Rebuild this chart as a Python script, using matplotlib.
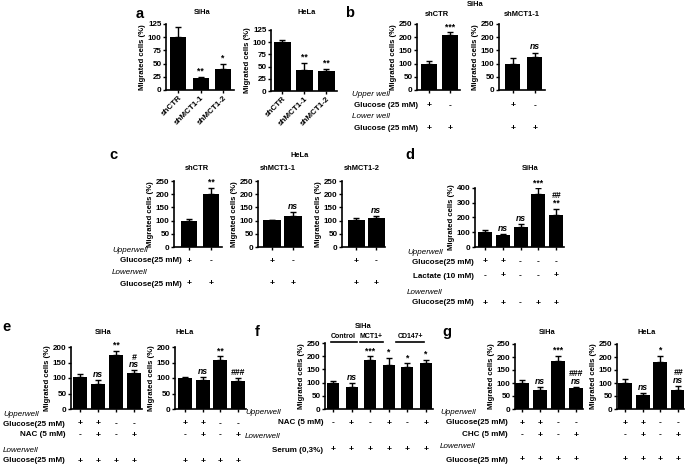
import numpy as np
import matplotlib
matplotlib.use('Agg')
import matplotlib.pyplot as plt
from matplotlib import font_manager
from matplotlib.transforms import blended_transform_factory
from matplotlib.lines import Line2D

_names = {f.name for f in font_manager.fontManager.ttflist}
HAS_NARROW = 'Liberation Sans Narrow' in _names
NARROW = 'Liberation Sans Narrow' if HAS_NARROW else 'Liberation Sans'
K = 1.0 if HAS_NARROW else 0.9

plt.rcParams['font.family'] = ['Liberation Sans', 'DejaVu Sans']
plt.rcParams['font.weight'] = 'bold'
plt.rcParams['axes.labelweight'] = 'bold'

# ---------------- data ----------------
a_labels = ['shCTR', 'shMCT1-1', 'shMCT1-2']
a_siha_vals = [100, 22, 40]
a_siha_err = [20, 3, 10]
a_siha_sig = ['', '**', '*']
a_hela_vals = [100, 44, 42]
a_hela_err = [5, 14, 3]
a_hela_sig = ['', '**', '**']

b_shctr_vals = [100, 207]
b_shctr_err = [8, 12]
b_shctr_sig = ['', '***']
b_shmct_vals = [100, 125]
b_shmct_err = [22, 17]
b_shmct_sig = ['', 'ns']
b_upper_glucose = ['+', '-']
b_lower_glucose = ['+', '+']

c_shctr_vals = [100, 202]
c_shctr_err = [5, 23]
c_shctr_sig = ['', '**']
c_shmct1_vals = [101, 118]
c_shmct1_err = [2, 15]
c_shmct1_sig = ['', 'ns']
c_shmct2_vals = [101, 108]
c_shmct2_err = [8, 10]
c_shmct2_sig = ['', 'ns']
c_upper_glucose = ['+', '-']
c_lower_glucose = ['+', '+']

d_vals = [105, 78, 135, 360, 220]
d_err = [10, 8, 18, 38, 37]
d_sig = ['', 'ns', 'ns', '***', '**\n##']
d_upper_glucose = ['+', '+', '-', '-', '-']
d_lactate = ['-', '+', '-', '-', '+']
d_lower_glucose = ['+', '+', '-', '+', '+']

e_siha_vals = [102, 82, 173, 115]
e_siha_err = [12, 12, 15, 10]
e_siha_sig = ['', 'ns', '**', 'ns\n#']
e_hela_vals = [100, 92, 158, 90]
e_hela_err = [2, 10, 12, 10]
e_hela_sig = ['', 'ns', '**', '###']
e_upper_glucose = ['+', '+', '-', '-']
e_nac = ['-', '+', '-', '+']
e_lower_glucose = ['+', '+', '+', '+']

f_groups = ['Control', 'MCT1+', 'CD147+']
f_vals = [100, 85, 185, 168, 158, 173]
f_err = [6, 12, 15, 25, 15, 13]
f_sig = ['', 'ns', '***', '*', '*', '*']
f_nac = ['-', '+', '-', '+', '-', '+']
f_serum = ['+', '+', '+', '+', '+', '+']

g_siha_vals = [100, 75, 185, 80]
g_siha_err = [12, 10, 20, 5]
g_siha_sig = ['', 'ns', '***', 'ns\n###']
g_hela_vals = [100, 53, 182, 75]
g_hela_err = [17, 10, 23, 13]
g_hela_sig = ['', 'ns', '*', 'ns\n##']
g_upper_glucose = ['+', '+', '-', '-']
g_chc = ['-', '+', '-', '+']
g_lower_glucose = ['+', '+', '+', '+']

# ---------------- layout helpers ----------------
W, H = 685, 467
fig = plt.figure(figsize=(W / 100, H / 100), dpi=100)
FS_TICK = 6.4 * K
FS_YLAB = 6.2 * K
FS_TITLE = 6.0 * K
FS_GROUP = 5.6 * K
FS_ROW = 6.4 * K
FS_SIGN = 6.8 * K
FS_SIG = 6.2
FS_LETTER = 10.5


def fy(y):
    return 1 - y / H


def ftext(x, y, s, ha='center', size=None, weight='bold', style='normal',
          family=None):
    fig.text(x / W, fy(y), s, ha=ha, va='center',
             fontsize=FS_ROW if size is None else size,
             fontweight=weight, fontstyle=style,
             family=[NARROW, 'DejaVu Sans'] if family is None else family)


def sig_text(ax, x, y, sig):
    off = 0.8
    for ln in sig.split('\n'):
        if not ln:
            continue
        style = 'italic' if ('ns' in ln or '#' in ln) else 'normal'
        ax.annotate(ln, (x, y), xytext=(0, off), textcoords='offset points',
                    ha='center', va='bottom', fontsize=FS_SIG, fontweight='bold',
                    fontstyle=style, annotation_clip=False)
        off += 5.5


def bar_panel(L, R, T, B, c0, cn, bw, vals, errs, sigs, ymax, ystep,
              xticklabels=None, ylabel='Migrated cells (%)'):
    n = len(vals)
    ax = fig.add_axes([L / W, 1 - B / H, (R - L) / W, (B - T) / H])
    s = (cn - c0) / (n - 1)
    x = np.arange(n)
    ax.set_xlim(-(c0 - L) / s, (n - 1) + (R - cn) / s)
    ax.set_ylim(0, ymax)
    ax.bar(x, vals, width=bw / s, color='black', zorder=2)
    ax.errorbar(x, vals, yerr=[np.zeros(n), errs], fmt='none', ecolor='black',
                elinewidth=1.0, capsize=2.0, capthick=1.0, zorder=1)
    for xi, v, e, sg in zip(x, vals, errs, sigs):
        sig_text(ax, xi, v + e, sg)
    ax.set_yticks(np.arange(0, ymax + 1, ystep))
    ax.set_xticks(x)
    if xticklabels is None:
        ax.set_xticklabels([])
    else:
        ax.set_xticklabels(xticklabels, rotation=45, ha='right',
                           rotation_mode='anchor', fontsize=FS_TICK,
                           fontweight='bold', family=[NARROW, 'DejaVu Sans'])
    for sp in ['top', 'right']:
        ax.spines[sp].set_visible(False)
    for sp in ['left', 'bottom']:
        ax.spines[sp].set_linewidth(1.2)
    ax.tick_params(axis='both', labelsize=FS_TICK, width=1.0, length=2.3, pad=1)
    for t in ax.get_yticklabels():
        t.set_fontweight('bold')
        t.set_family([NARROW, 'DejaVu Sans'])
    ax.set_ylabel(ylabel, fontsize=FS_YLAB, fontweight='bold', labelpad=1.5,
                  family=[NARROW, 'DejaVu Sans'])
    return ax


def cond_row(ax, y, signs):
    tr = blended_transform_factory(ax.transData, fig.transFigure)
    for i, sg in enumerate(signs):
        ax.text(i, fy(y), sg, transform=tr, ha='center', va='center',
                fontsize=FS_SIGN, fontweight='bold')


def well_label(x, y, s):
    ftext(x, y, s, ha='left', weight='normal', style='italic')


# ---------------- panel a ----------------
ftext(140, 14, 'a', size=FS_LETTER, family=['Liberation Sans'])
ax = bar_panel(166, 234, 24, 90, 178, 223, 16, a_siha_vals, a_siha_err,
               a_siha_sig, 125, 25, xticklabels=a_labels)
ftext(202, 13, 'SiHa', size=FS_TITLE)
ax = bar_panel(271, 337, 30, 91, 282, 326, 17, a_hela_vals, a_hela_err,
               a_hela_sig, 125, 25, xticklabels=a_labels)
ftext(307, 13, 'HeLa', size=FS_TITLE)

# ---------------- panel b ----------------
ftext(350, 13, 'b', size=FS_LETTER, family=['Liberation Sans'])
ftext(475, 5, 'SiHa', size=FS_TITLE)
ax1 = bar_panel(417, 460, 24, 90, 429, 450, 16, b_shctr_vals, b_shctr_err,
                b_shctr_sig, 250, 50)
ftext(437, 14, 'shCTR', size=FS_TITLE)
ax2 = bar_panel(499, 545, 24, 90, 513, 535, 15, b_shmct_vals, b_shmct_err,
                b_shmct_sig, 250, 50)
ftext(522, 14, 'shMCT1-1', size=FS_TITLE)
well_label(352, 94, 'Upper well')
ftext(418, 106, 'Glucose (25 mM)', ha='right')
well_label(352, 117, 'Lower well')
ftext(418, 128, 'Glucose (25 mM)', ha='right')
for a in (ax1, ax2):
    cond_row(a, 106, b_upper_glucose)
    cond_row(a, 128, b_lower_glucose)

# ---------------- panel c ----------------
ftext(113, 155, 'c', size=FS_LETTER, family=['Liberation Sans'])
ftext(300, 155, 'HeLa', size=FS_TITLE)
c1 = bar_panel(174, 222, 181, 247, 189, 211, 16, c_shctr_vals, c_shctr_err,
               c_shctr_sig, 250, 50)
ftext(197, 168, 'shCTR', size=FS_TITLE)
c2 = bar_panel(258, 303, 181, 247, 272, 293, 18, c_shmct1_vals, c_shmct1_err,
               c_shmct1_sig, 250, 50)
ftext(278, 168, 'shMCT1-1', size=FS_TITLE)
c3 = bar_panel(342, 385, 181, 247, 356, 376, 17, c_shmct2_vals, c_shmct2_err,
               c_shmct2_sig, 250, 50)
ftext(362, 168, 'shMCT1-2', size=FS_TITLE)
well_label(112, 250, 'Upperwell')
ftext(182, 261, 'Glucose(25 mM)', ha='right')
well_label(112, 272, 'Lowerwell')
ftext(182, 284, 'Glucose(25 mM)', ha='right')
for a in (c1, c2, c3):
    cond_row(a, 261, c_upper_glucose)
    cond_row(a, 284, c_lower_glucose)

# ---------------- panel d ----------------
ftext(410, 155, 'd', size=FS_LETTER, family=['Liberation Sans'])
ftext(530, 168, 'SiHa', size=FS_TITLE)
d1 = bar_panel(475, 564, 188, 247, 485, 556, 14, d_vals, d_err, d_sig, 400, 100)
well_label(407, 253, 'Upperwell')
ftext(474, 262, 'Glucose(25 mM)', ha='right')
ftext(474, 276, 'Lactate (10 mM)', ha='right')
well_label(407, 292, 'Lowerwell')
ftext(474, 303, 'Glucose(25 mM)', ha='right')
cond_row(d1, 262, d_upper_glucose)
cond_row(d1, 276, d_lactate)
cond_row(d1, 303, d_lower_glucose)

# ---------------- panel e ----------------
ftext(6, 327, 'e', size=FS_LETTER, family=['Liberation Sans'])
e1 = bar_panel(71, 142, 347, 409, 80, 134, 14, e_siha_vals, e_siha_err,
               e_siha_sig, 200, 50)
ftext(103, 332, 'SiHa', size=FS_TITLE)
e2 = bar_panel(175, 246, 347, 409, 185, 238, 14, e_hela_vals, e_hela_err,
               e_hela_sig, 200, 50)
ftext(185, 332, 'HeLa', size=FS_TITLE)
well_label(3, 414, 'Upperwell')
ftext(65, 424, 'Glucose(25 mM)', ha='right')
ftext(65, 435, 'NAC (5 mM)', ha='right')
well_label(3, 450, 'Lowerwell')
ftext(65, 461, 'Glucose(25 mM)', ha='right')
for a in (e1, e2):
    cond_row(a, 424, e_upper_glucose)
    cond_row(a, 435, e_nac)
    cond_row(a, 461, e_lower_glucose)

# ---------------- panel f ----------------
ftext(257, 332, 'f', size=FS_LETTER, family=['Liberation Sans'])
ftext(363, 327, 'SiHa', size=FS_TITLE)
f1 = bar_panel(325, 433, 343, 409, 333, 426, 12, f_vals, f_err, f_sig, 250, 50)
group_pos = [(343, 331, 357), (371, 360, 383), (410, 396, 424)]
for gname, (gx, gl, gr) in zip(f_groups, group_pos):
    ftext(gx, 336, gname, size=FS_GROUP)
    fig.add_artist(Line2D([gl / W, gr / W], [fy(341.5), fy(341.5)],
                          color='black', lw=1.2))
well_label(245, 413, 'Upperwell')
ftext(323, 423, 'NAC (5 mM)', ha='right')
well_label(245, 437, 'Lowerwell')
ftext(323, 450, 'Serum (0,3%)', ha='right')
cond_row(f1, 423, f_nac)
cond_row(f1, 450, f_serum)

# ---------------- panel g ----------------
ftext(447, 332, 'g', size=FS_LETTER, family=['Liberation Sans'])
g1 = bar_panel(515, 583, 344, 409, 522, 576, 14, g_siha_vals, g_siha_err,
               g_siha_sig, 250, 50)
ftext(547, 333, 'SiHa', size=FS_TITLE)
g2 = bar_panel(617, 684, 344, 409, 625, 678, 14, g_hela_vals, g_hela_err,
               g_hela_sig, 250, 50)
ftext(647, 333, 'HeLa', size=FS_TITLE)
well_label(440, 412, 'Upperwell')
ftext(508, 423, 'Glucose(25 mM)', ha='right')
ftext(508, 435, 'CHC (5 mM)', ha='right')
well_label(440, 447, 'Lowerwell')
ftext(508, 460, 'Glucose(25 mM)', ha='right')
for a in (g1, g2):
    cond_row(a, 423, g_upper_glucose)
    cond_row(a, 435, g_chc)
    cond_row(a, 460, g_lower_glucose)

fig.savefig('out.png', dpi=100)
